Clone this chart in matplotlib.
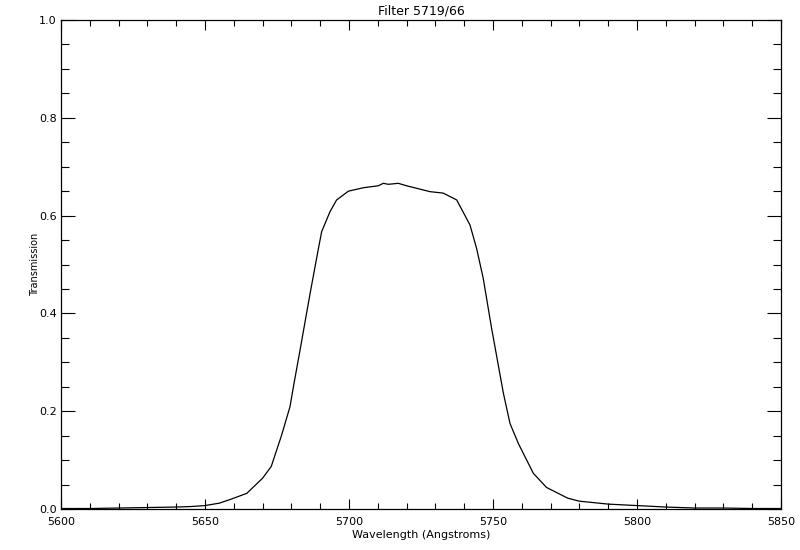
import matplotlib
matplotlib.use('Agg')
import matplotlib.pyplot as plt
import numpy as np
from matplotlib.ticker import MultipleLocator

# filter curve
wavelength = [5600, 5610, 5620, 5630, 5640, 5645, 5650, 5655, 5659, 5664.5, 5670, 5673,
              5676.6, 5679.5, 5680.7, 5683, 5686.5, 5689.3, 5690.5, 5693.4, 5695.7, 5699.8,
              5705, 5710.2, 5711.9, 5713.7, 5717.1, 5720, 5728.1, 5732.7, 5737.4, 5742,
              5744.3, 5746.6, 5749.5, 5753.6, 5755.9, 5758.8, 5764, 5768.6, 5776, 5780,
              5790, 5800, 5810, 5820, 5830, 5840, 5850]
transmission = [0.001, 0.001, 0.002, 0.003, 0.004, 0.005, 0.007, 0.012, 0.02, 0.032, 0.063, 0.087,
                0.151, 0.209, 0.25, 0.325, 0.441, 0.53, 0.567, 0.608, 0.632, 0.650,
                0.657, 0.661, 0.666, 0.664, 0.666, 0.661, 0.649, 0.646, 0.632, 0.581,
                0.533, 0.472, 0.37, 0.237, 0.175, 0.134, 0.073, 0.044, 0.022, 0.016,
                0.01, 0.007, 0.004, 0.002, 0.002, 0.001, 0.001]

fig = plt.figure(figsize=(8, 5.5), dpi=100)
ax = fig.add_axes([61 / 800, 41 / 550, 720 / 800, 489 / 550])
ax.plot(wavelength, transmission, color='black', linewidth=0.9)

ax.set_xlim(5600, 5850)
ax.set_ylim(0, 1.0)
ax.xaxis.set_major_locator(MultipleLocator(50))
ax.xaxis.set_minor_locator(MultipleLocator(10))
ax.yaxis.set_major_locator(MultipleLocator(0.2))
ax.yaxis.set_minor_locator(MultipleLocator(0.05))
ax.yaxis.set_major_formatter(plt.FormatStrFormatter('%.1f'))

ax.tick_params(axis='both', which='both', direction='in', top=True, right=True,
               labelsize=8, width=0.8)
ax.tick_params(axis='x', which='major', length=7, pad=6)
ax.tick_params(axis='x', which='minor', length=4)
ax.tick_params(axis='y', which='major', length=10, pad=3)
ax.tick_params(axis='y', which='minor', length=5.5)
for s in ax.spines.values():
    s.set_linewidth(0.9)

ax.set_xlabel('Wavelength (Angstroms)', fontsize=8, labelpad=2)
ax.set_ylabel('Transmission', fontsize=7, labelpad=-1)
ax.set_title('Filter 5719/66', fontsize=9, pad=4)

plt.savefig('out.png', dpi=100)
